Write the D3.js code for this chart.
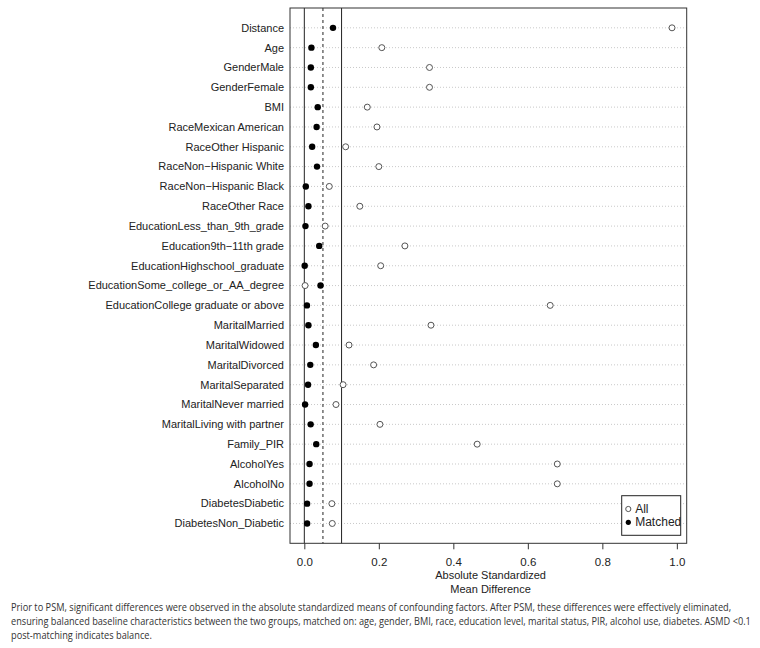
<!DOCTYPE html>
<html lang="en">
<head>
  <meta charset="UTF-8">
  <title>Covariate balance: absolute standardized mean difference</title>
  <script src="https://d3js.org/d3.v7.min.js"></script>
  <style>
    body { margin: 0; background: #fff; }
    svg { display: block; }
    .lab { font-family: "Liberation Sans", Arial, sans-serif; fill: #222; }
    .cap { font-family: "Liberation Sans Narrow", "Open Sans", sans-serif; font-size: 10.5px; fill: #333; }
  </style>
</head>
<body>
  <svg id="chart" width="760" height="648"></svg>
  <script>
    const covariates = [
      "Distance", "Age", "GenderMale", "GenderFemale", "BMI",
      "RaceMexican American", "RaceOther Hispanic", "RaceNon\u2212Hispanic White",
      "RaceNon\u2212Hispanic Black", "RaceOther Race",
      "EducationLess_than_9th_grade", "Education9th\u221211th grade",
      "EducationHighschool_graduate", "EducationSome_college_or_AA_degree",
      "EducationCollege graduate or above",
      "MaritalMarried", "MaritalWidowed", "MaritalDivorced", "MaritalSeparated",
      "MaritalNever married", "MaritalLiving with partner",
      "Family_PIR", "AlcoholYes", "AlcoholNo", "DiabetesDiabetic", "DiabetesNon_Diabetic"
    ];
    const allValues = [
      0.987, 0.208, 0.336, 0.336, 0.169,
      0.195, 0.111, 0.200, 0.067, 0.149,
      0.056, 0.270, 0.205, 0.002, 0.660,
      0.340, 0.120, 0.186, 0.104, 0.085, 0.203,
      0.464, 0.679, 0.679, 0.074, 0.075
    ];
    const matchedValues = [
      0.077, 0.019, 0.0175, 0.0175, 0.036,
      0.033, 0.021, 0.034, 0.004, 0.011,
      0.003, 0.040, 0.001, 0.0435, 0.007,
      0.011, 0.031, 0.016, 0.010, 0.002, 0.017,
      0.032, 0.014, 0.014, 0.0075, 0.0075
    ];
    const xTicks = [0, 0.2, 0.4, 0.6, 0.8, 1.0];
    const refLines = [0, 0.05, 0.1];
    const legendLabels = ["All", "Matched"];
    const captionLines = [
      "Prior to PSM, significant differences were observed in the absolute standardized means of confounding factors. After PSM, these differences were effectively eliminated,",
      "ensuring balanced baseline characteristics between the two groups, matched on: age, gender, BMI, race, education level, marital status, PIR, alcohol use, diabetes. ASMD <0.1",
      "post-matching indicates balance."
    ];

    const svg = d3.select("#chart");
    const box = { left: 290, right: 686.7, top: 8, bottom: 543.3 };

    // R-style 4% padding around the data range
    const vals = allValues.concat(matchedValues);
    const lo = d3.min(vals), hi = d3.max(vals);
    const pad = (hi - lo) * 0.04;
    const x = d3.scaleLinear().domain([lo - pad, hi + pad]).range([box.left, box.right]);
    const y = d3.scalePoint().domain(covariates).range([box.top, box.bottom]).padding(1);

    // dotted row guides
    svg.append("g").selectAll("line")
      .data(covariates)
      .join("line")
      .attr("x1", box.left).attr("x2", box.right)
      .attr("y1", d => y(d)).attr("y2", d => y(d))
      .attr("stroke", "#bbb").attr("stroke-width", 0.8)
      .attr("stroke-dasharray", "1,2");

    // reference lines
    svg.append("g").selectAll("line")
      .data(refLines)
      .join("line")
      .attr("x1", d => x(d)).attr("x2", d => x(d))
      .attr("y1", box.top).attr("y2", box.bottom)
      .attr("stroke", "#222").attr("stroke-width", 1)
      .attr("stroke-dasharray", d => d === 0.05 ? "3,3" : null);

    // plot frame
    svg.append("rect")
      .attr("x", box.left).attr("y", box.top)
      .attr("width", box.right - box.left).attr("height", box.bottom - box.top)
      .attr("fill", "none").attr("stroke", "#333").attr("stroke-width", 1);

    // y labels
    svg.append("g").selectAll("text")
      .data(covariates)
      .join("text")
      .attr("class", "lab")
      .attr("x", box.left - 6)
      .attr("y", d => y(d))
      .attr("dy", "0.35em")
      .attr("text-anchor", "end")
      .attr("font-size", 11)
      .text(d => d);

    // x axis
    const xAxis = d3.axisBottom(x).tickValues(xTicks).tickFormat(d3.format(".1f")).tickSize(6).tickPadding(9);
    const gx = svg.append("g").attr("transform", `translate(0,${box.bottom})`).call(xAxis);
    gx.select(".domain").remove();
    gx.selectAll(".tick line").attr("stroke", "#333");
    gx.selectAll(".tick text").attr("class", "lab").attr("font-size", 11.5).attr("fill", "#333");

    const midX = (x(0) + x(1)) / 2;
    svg.append("text").attr("class", "lab").attr("x", midX).attr("y", 579)
      .attr("text-anchor", "middle").attr("font-size", 11).text("Absolute Standardized");
    svg.append("text").attr("class", "lab").attr("x", midX).attr("y", 593)
      .attr("text-anchor", "middle").attr("font-size", 11).text("Mean Difference");

    // points
    svg.append("g").selectAll("circle")
      .data(covariates)
      .join("circle")
      .attr("cx", (d, i) => x(allValues[i]))
      .attr("cy", d => y(d))
      .attr("r", 3)
      .attr("fill", "#fff").attr("stroke", "#555").attr("stroke-width", 1);

    svg.append("g").selectAll("circle")
      .data(covariates)
      .join("circle")
      .attr("cx", (d, i) => x(matchedValues[i]))
      .attr("cy", d => y(d))
      .attr("r", 3.2)
      .attr("fill", "#000");

    // legend
    const lg = svg.append("g").attr("transform", "translate(621.7,495.7)");
    lg.append("rect").attr("width", 59).attr("height", 39.6)
      .attr("fill", "#fff").attr("stroke", "#222").attr("stroke-width", 1);
    legendLabels.forEach((name, i) => {
      const cy = 13.3 + i * 13.3;
      lg.append("circle").attr("cx", 6.6).attr("cy", cy).attr("r", 2.6)
        .attr("fill", i === 0 ? "#fff" : "#000")
        .attr("stroke", i === 0 ? "#555" : "none");
      lg.append("text").attr("class", "lab").attr("x", 13.5).attr("y", cy)
        .attr("dy", "0.35em").attr("font-size", 12).text(name);
    });

    // caption: squeeze horizontally to mimic the condensed journal font
    const capWidths = [721, 740, null];
    let squeeze = 1;
    svg.append("g").selectAll("text")
      .data(captionLines)
      .join("text")
      .attr("class", "cap")
      .text(d => d)
      .each(function (d, i) {
        if (i === 0) squeeze = capWidths[0] / this.getComputedTextLength();
      })
      .each(function (d, i) {
        let sx = squeeze;
        if (capWidths[i]) sx = capWidths[i] / this.getComputedTextLength();
        d3.select(this).attr("transform", `translate(11,${611 + i * 14}) scale(${sx},1)`);
      });
  </script>
</body>
</html>
